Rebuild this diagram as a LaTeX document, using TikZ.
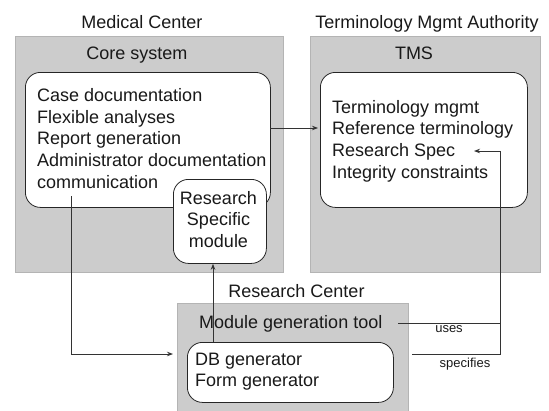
\documentclass[tikz,border=0pt]{standalone}
\usepackage{fontspec}
\setmainfont{Liberation Sans}
\usetikzlibrary{arrows.meta}
\definecolor{boxgray}{HTML}{CCCCCC}
\definecolor{boxedge}{HTML}{B4B4B4}
\newcommand\leftlines[1]{\begin{tabular}[t]{@{}l@{}}#1\end{tabular}}
\newcommand\centerlines[1]{\begin{tabular}[t]{@{}c@{}}#1\end{tabular}}
\begin{document}
\begin{tikzpicture}[x=1pt,y=-1pt,
  graybox/.style={draw=boxedge, fill=boxgray, line width=0.8pt, anchor=north west, inner sep=0pt},
  whitebox/.style={draw=black!85, fill=white, rounded corners=15pt, line width=0.8pt, anchor=north west, inner sep=0pt},
  lbl/.style={font=\fontsize{18}{21.6}\selectfont, inner sep=0pt, text=black!90},
  small/.style={font=\fontsize{13}{15}\selectfont, inner sep=0pt, text=black!90},
  conn/.style={line width=0.9pt, draw=black!80},
  arr/.style={conn, -{Stealth[length=6pt,width=4.5pt]}}]
\useasboundingbox (0,0) rectangle (549,410);

% gray containers
\node[graybox, minimum width=268pt, minimum height=236pt] (mc) at (15,36) {};
\node[graybox, minimum width=230pt, minimum height=236pt] (tma) at (310,36) {};
\node[graybox, minimum width=231pt, minimum height=110pt] (rc) at (177,303) {};

% white boxes
\node[whitebox, minimum width=245pt, minimum height=135pt] (core) at (25,72) {};
\node[whitebox, minimum width=93pt, minimum height=84pt] (rs) at (173,179) {};
\node[whitebox, minimum width=207pt, minimum height=135pt] (tms) at (320,72) {};
\node[whitebox, minimum width=206pt, minimum height=60pt] (db) at (187,342) {};

% headings
\node[lbl, anchor=base] (mclabel) at (142,28) {Medical Center};
\node[lbl, anchor=base] (corelabel) at (137,59) {Core system};
\node[lbl, anchor=base] (tmalabel) at (427,28) {Terminology Mgmt Authority};
\node[lbl, anchor=base] (tmslabel) at (414,59) {TMS};
\node[lbl, anchor=base] (rclabel) at (296.5,297) {Research Center};
\node[lbl, anchor=base west] (mgt) at (199,328) {Module generation tool};

% box texts
\node[lbl, anchor=base west] (coretext) at (37,101.7) {\leftlines{Case documentation\\Flexible analyses\\Report generation\\Administrator documentation\\communication}};
\node[lbl, anchor=base] (rstext) at (218.5,204) {\centerlines{Research\\Specific\\module}};
\node[lbl, anchor=base west] (tmstext) at (332,113.3) {\leftlines{Terminology mgmt\\Reference terminology\\Research Spec\\Integrity constraints}};
\node[lbl, anchor=base west] (dbtext) at (195,365) {\leftlines{DB generator\\Form generator}};

% small labels
\node[small, anchor=base] (uses) at (449,332) {uses};
\node[small, anchor=base] (specifies) at (465,367.5) {specifies};

% connector points
\coordinate (coreout) at (270,128);
\coordinate (tmsin) at (318,128);
\coordinate (commstart) at (71,196);
\coordinate (dbin) at (173,354);
\coordinate (upx) at (213,0);
\coordinate (mgtout) at (398,323);
\coordinate (join) at (500,323);
\coordinate (specin) at (474,151);
\coordinate (dbout) at (412,354);
\coordinate (joinlow) at (500,354);

% connectors
\draw[arr] (coreout) -- (tmsin);
\draw[arr] (commstart) |- (dbin);
\draw[arr] (db.north -| upx) -- (rs.south -| upx);
\draw[arr] (mgtout) -- (join) |- (specin);
\draw[conn] (dbout) -- (joinlow) -- (join);
\end{tikzpicture}
\end{document}
